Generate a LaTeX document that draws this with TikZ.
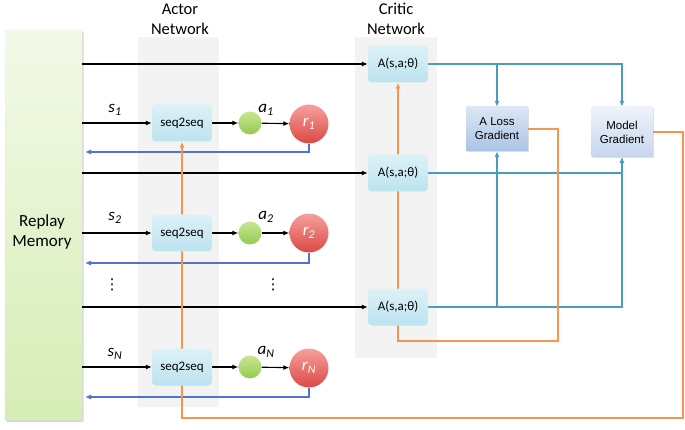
\documentclass[tikz,border=0pt]{standalone}
\usepackage{fontspec}
\setmainfont{Carlito}
\newfontfamily\arialf{Liberation Sans}
\newfontfamily\dejaf{DejaVu Sans}
\usetikzlibrary{arrows.meta,shadows,calc}
\pgfdeclarelayer{cols}
\pgfdeclarelayer{lines}
\pgfsetlayers{cols,lines,main}
\definecolor{tealc}{HTML}{4A9DB8}
\definecolor{orangec}{HTML}{F7964A}
\definecolor{bluec}{HTML}{5272CC}
\definecolor{colgray}{HTML}{F3F3F3}
\definecolor{boxtop}{HTML}{DDF1F7}
\definecolor{boxbot}{HTML}{BCE3EF}
\definecolor{losstop}{HTML}{DCE6F4}
\definecolor{lossbot}{HTML}{AAC3E5}
\definecolor{modtop}{HTML}{EFF3FA}
\definecolor{modbot}{HTML}{C6D5EE}
\definecolor{greentop}{HTML}{C8E594}
\definecolor{greenbot}{HTML}{95CB4E}
\definecolor{redtop}{HTML}{F5A19D}
\definecolor{redbot}{HTML}{DC4844}
\definecolor{memtop}{HTML}{F3F9E8}
\definecolor{membot}{HTML}{D6EDB5}
\begin{document}
\begin{tikzpicture}[x=1pt,y=-1pt,
  seqbox/.style={rounded corners=4pt, top color=boxtop, bottom color=boxbot, minimum width=60pt, minimum height=37pt, inner sep=0pt, font=\fontsize{13}{15}\selectfont},
  gradbox/.style={minimum width=62pt, inner sep=0pt, align=center, font=\arialf\fontsize{11.5}{14}\selectfont, drop shadow={opacity=0.25, shadow xshift=1pt, shadow yshift=-1.5pt}},
  actdot/.style={circle, minimum size=23pt, inner sep=0pt, top color=greentop, bottom color=greenbot},
  rewdot/.style={circle, minimum size=39pt, inner sep=0pt, top color=redtop, bottom color=redbot, text=white, font=\fontsize{17}{19}\selectfont},
  blk/.style={black, line width=1.1pt, -{Latex[length=6pt,width=5pt]}},
  tl/.style={tealc, line width=1.4pt, -{Latex[length=6pt,width=5pt]}},
  orl/.style={orangec, line width=1.4pt, -{Latex[length=6pt,width=5pt]}},
  bl/.style={bluec, line width=1.1pt, -{Latex[length=6pt,width=5pt]}},
  lab/.style={font=\fontsize{17}{19}\selectfont, inner sep=0pt},
  dotlab/.style={font=\dejaf\fontsize{15}{17}\selectfont, inner sep=0pt},
  head/.style={align=center, font=\fontsize{16.5}{20}\selectfont}]
\useasboundingbox (0,0) rectangle (685,430);

% columns
\begin{pgfonlayer}{cols}
\fill[colgray] (138,37) rectangle (219,407);
\fill[colgray] (355,37) rectangle (437,358);
\end{pgfonlayer}
\node[head] (acth) at (180,19) {Actor\\Network};
\node[head] (crih) at (396,19) {Critic\\Network};

% replay memory
\node[minimum width=77pt, minimum height=390pt, inner sep=0pt] (mem) at (43.5,225) {};
\node[align=center, inner sep=0pt, font=\fontsize{17}{20}\selectfont] (memtext) at (42,232) {Replay\\Memory};
\begin{pgfonlayer}{cols}
\path[top color=memtop, bottom color=membot, drop shadow={opacity=0.3, shadow xshift=1.5pt, shadow yshift=-2pt}]
  (mem.south west) -- (mem.north west) -- (mem.north east) [rounded corners=10pt] -- ($(mem.north east)!0.5!(mem.south east)$) [sharp corners] -- (mem.south east) -- cycle;
\end{pgfonlayer}

% actor nodes
\node[seqbox] (seq1) at (182,123) {seq2seq};
\node[seqbox] (seq2) at (182,233) {seq2seq};
\node[seqbox] (seqN) at (182,367) {seq2seq};
\node[actdot] (a1) at (250,123) {};
\node[actdot] (a2) at (250,233) {};
\node[actdot] (aN) at (250,367) {};
\node[rewdot] (r1) at (309,124) {\textit{r}\textsubscript{\textit{1}}};
\node[rewdot] (r2) at (309,233) {\textit{r}\textsubscript{\textit{2}}};
\node[rewdot] (rN) at (309,368) {\textit{r}\textsubscript{\textit{N}}};

% critic nodes
\node[seqbox] (A1) at (398,64) {A(s,a;θ)};
\node[seqbox] (A2) at (398,173) {A(s,a;θ)};
\node[seqbox] (A3) at (398,307) {A(s,a;θ)};

% gradient nodes
\node[gradbox, minimum height=44pt, top color=losstop, bottom color=lossbot] (loss) at (497,129) {A Loss\\Gradient};
\node[gradbox, minimum width=61pt, minimum height=50pt, top color=modtop, bottom color=modbot] (model) at (622,132) {Model\\Gradient};

% labels
\node[lab] (s1l) at (115,110) {\textit{s}\textsubscript{\textit{1}}};
\node[lab] (s2l) at (115,218) {\textit{s}\textsubscript{\textit{2}}};
\node[lab] (sNl) at (115,354) {\textit{s}\textsubscript{\textit{N}}};
\node[lab] (a1l) at (266,110) {\textit{a}\textsubscript{\textit{1}}};
\node[lab] (a2l) at (266,217) {\textit{a}\textsubscript{\textit{2}}};
\node[lab] (aNl) at (266,352) {\textit{a}\textsubscript{\textit{N}}};
\node[dotlab] (d1) at (112,285) {⋮};
\node[dotlab] (d2) at (273,285) {⋮};

% free ends
\coordinate (ret1) at (85,152);
\coordinate (ret2) at (85,263);
\coordinate (retN) at (85,397);
\coordinate (lossturn) at (558,341);
\coordinate (modturn) at (683,418);

\begin{pgfonlayer}{lines}
% black
\draw[blk] (mem.east |- A1) -- (A1);
\draw[blk] (mem.east |- A2) -- (A2);
\draw[blk] (mem.east |- A3) -- (A3);
\draw[blk] (mem.east |- seq1) -- (seq1);
\draw[blk] (mem.east |- seq2) -- (seq2);
\draw[blk] (mem.east |- seqN) -- (seqN);
\draw[blk] (seq1) -- (a1);
\draw[blk] (seq2) -- (a2);
\draw[blk] (seqN) -- (aN);
\draw[blk] (a1) -- (r1);
\draw[blk] (a2) -- (r2);
\draw[blk] (aN) -- (rN);
% blue returns
\draw[bl] (r1.south) |- (ret1);
\draw[bl] (r2.south) |- (ret2);
\draw[bl] (rN.south) |- (retN);
% teal
\draw[tl] (A1.east) -| (model.north);
\draw[tl] (A1.east -| loss) -- (loss.north);
\draw[tl] (A2.east) -| (model.south);
\draw[tl] (A3.east) -| (model.south);
\draw[tl] (A3.east -| loss) -- (loss.south);
% orange
\draw[orl] (loss.east) -| (lossturn) -| (A1.south);
\draw[orl] (model.east) -| (modturn) -| (seq1.south);
\end{pgfonlayer}
\end{tikzpicture}
\end{document}
